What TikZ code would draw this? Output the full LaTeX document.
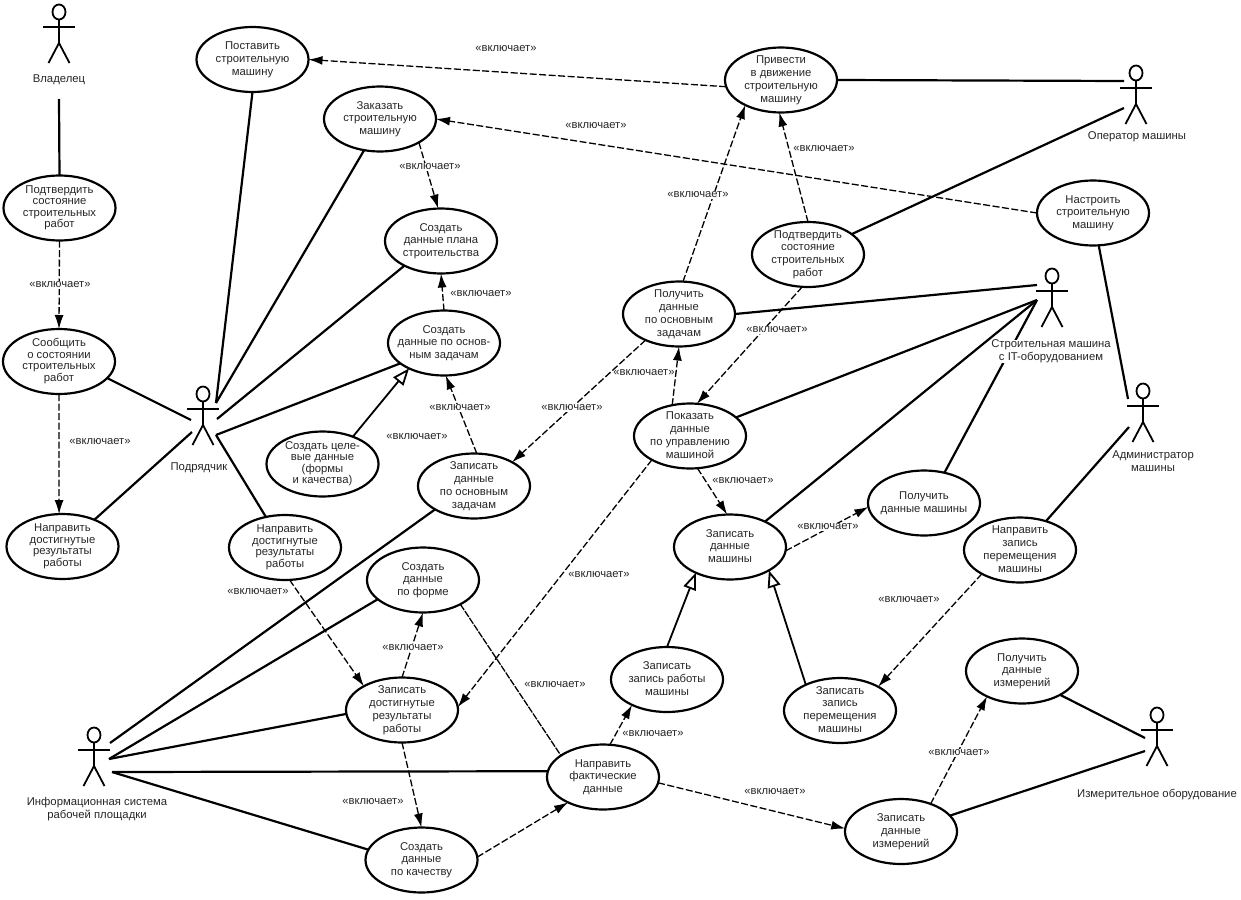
\documentclass[tikz,border=0pt]{standalone}
\usepackage{fontspec}
\setmainfont{Liberation Sans}
\usetikzlibrary{arrows.meta,shapes.geometric}
\newcommand\uctext[1]{\smash{\raisebox{-3pt}{\makebox[0pt][c]{\begin{tabular}{@{}c@{}}#1\end{tabular}}}}}
\newcommand\uc[3]{\node[usecase] (#1) at (#2) {\uctext{#3}};}
\newcommand\ucs[3]{\node[usecase] (#1) at (#2) {\def\arraystretch{0.89}\uctext{#3}};}
\newcommand\incl[2]{\node[inclabel] (#1) at (#2) {«включает»};}
\newcommand\actorfig[3]{%
  \coordinate (#1) at (#2,#3);
  \begin{scope}[shift={(#2,#3)}]
    \draw[actorline] (0,0) ellipse [x radius=6.5,y radius=7.5];
    \draw[actorline] (0,7.5) -- (0,31) -- (-10.5,51);
    \draw[actorline] (0,31) -- (10.5,51);
    \draw[actorline] (-16,15) -- (16,15);
  \end{scope}}
\tikzset{
  x=1pt,y=-1pt,
  usecase/.style={ellipse,draw=black,line width=2.2pt,minimum width=112pt,minimum height=65pt,inner sep=0pt,outer sep=0pt,text=black!85,font=\fontsize{11.3}{12.8}\selectfont},
  inclabel/.style={fill=white,inner sep=0.5pt,text=black!85,font=\fontsize{11.2}{12.8}\selectfont},
  inclabelnf/.style={inner sep=0.5pt,text=black!85,font=\fontsize{11.2}{12.8}\selectfont},
  actorlabel/.style={align=center,inner sep=0pt,fill=white,text=black!85,font=\fontsize{11.3}{12.9}\selectfont},
  actorline/.style={line width=1.8pt,black},
  assoc/.style={line width=2.2pt,black},
  incdep/.style={line width=1.3pt,black,dash pattern=on 7pt off 2.5pt,-{Latex[length=14pt,width=9pt]}},
  plaindep/.style={line width=1.3pt,black,dash pattern=on 7pt off 1.2pt},
  general/.style={line width=1.8pt,black,-{Triangle[open,length=17pt,width=13pt,fill=white,line width=1.8pt]}},
}
\begin{document}
\begin{tikzpicture}
\useasboundingbox (0,0) rectangle (1241,899);
% actors
\actorfig{aowner}{59}{12}
\actorfig{acontr}{203}{394}
\actorfig{aoper}{1136}{73}
\actorfig{ait}{1052}{276}
\actorfig{aadmin}{1143}{391}
\actorfig{ainfo}{94}{735}
\actorfig{ameas}{1157}{715}
% connector free ends
\coordinate (eowner) at (59,99);
\coordinate (ec1) at (216,403);
\coordinate (ec2) at (217,419);
\coordinate (ec3) at (216,435);
\coordinate (ec4) at (191,420);
\coordinate (ec5) at (192,432);
\coordinate (ei1) at (110,743);
\coordinate (ei2) at (109,759);
\coordinate (ei3) at (112,772);
\coordinate (eo1) at (1124,81);
\coordinate (eo2) at (1124,108);
\coordinate (et1) at (1037,285);
\coordinate (et2) at (1037,300);
\coordinate (ea1) at (1128,399);
\coordinate (ea2) at (1129,427);
\coordinate (em1) at (1145,738);
\coordinate (em2) at (1145,751);
% use cases
\uc{post}{252.5,59.5}{Поставить\\строительную\\машину}
\uc{zak}{380,119}{Заказать\\строительную\\машину}
\uc{plan}{441,241}{Создать\\данные плана\\строительства}
\uc{osn}{444,343}{Создать\\данные по основ-\\ным задачам}
\ucs{cel}{322.5,464}{Создать целе-\\вые данные\\(формы\\и качества)}
\uc{zap}{474,486}{Записать\\данные\\по основным\\задачам}
\ucs{mid}{285,547.5}{Направить\\достигнутые\\результаты\\работы}
\uc{forma}{423,580}{Создать\\данные\\по форме}
\uc{dost}{402,710}{Записать\\достигнутые\\результаты\\работы}
\uc{kach}{421.5,860}{Создать\\данные\\по качеству}
\uc{fakt}{603,777}{Направить\\фактические\\данные}
\ucs{podl}{59.5,208}{Подтвердить\\состояние\\строительных\\работ}
\ucs{soob}{59,361.5}{Сообщить\\о состоянии\\строительных\\работ}
\ucs{napl}{62.5,546.5}{Направить\\достигнутые\\результаты\\работы}
\uc{priv}{781,80}{Привести\\в движение\\строительную\\машину}
\uc{podm}{808,254.5}{Подтвердить\\состояние\\строительных\\работ}
\uc{polo}{679,314}{Получить\\данные\\по основным\\задачам}
\uc{pok}{690,436}{Показать\\данные\\по управлению\\машиной}
\uc{zapm}{730,547}{Записать\\данные\\машины}
\uc{polm}{924,503}{Получить\\данные машины}
\uc{nast}{1093,213}{Настроить\\строительную\\машину}
\uc{napz}{1020,550}{Направить\\запись\\перемещения\\машины}
\uc{rab}{667,679.5}{Записать\\запись работы\\машины}
\uc{per}{840,710.5}{Записать\\запись\\перемещения\\машины}
\uc{pizm}{1022,671}{Получить\\данные\\измерений}
\uc{zizm}{901,831.5}{Записать\\данные\\измерений}
% associations
\draw[assoc] (eowner) -- (podl.north);
\draw[assoc] (post.south) -- (ec1);
\draw[assoc] (zak.243) -- (ec1);
\draw[assoc] (plan.214) -- (ec2);
\draw[assoc] (osn.205.6) -- (ec3);
\draw[assoc] (mid.122) -- (ec3);
\draw[assoc] (soob.-19) -- (ec4);
\draw[assoc] (napl.40) -- (ec5);
\draw[assoc] (zap.211) -- (ei1);
\draw[assoc] (forma.203) -- (ei2);
\draw[assoc] (dost.184) -- (ei2);
\draw[assoc] (fakt.174) -- (ei3);
\draw[assoc] (kach.169) -- (ei3);
\draw[assoc] (priv.east) -- (eo1);
\draw[assoc] (podm.25) -- (eo2);
\draw[assoc] (polo.east) -- (et1);
\draw[assoc] (pok.22) -- (et2);
\draw[assoc] (zapm.36) -- (et2);
\draw[assoc] (polm.56) -- (et2);
\draw[assoc] (nast.280) -- (ea1);
\draw[assoc] (napz.48) -- (ea2);
\draw[assoc] (pizm.-32) -- (em1);
\draw[assoc] (zizm.18) -- (em2);
% include dependencies
\draw[incdep] (podl.south) -- (soob.north);
\draw[incdep] (soob.south) -- (napl.96);
\draw[incdep] (priv.187) -- (post.east);
\draw[incdep] (nast.west) -- (zak.east);
\draw[incdep] (zak.-31) -- (plan.95);
\draw[incdep] (osn.north) -- (plan.south);
\draw[incdep] (zap.85) -- (osn.-87);
\draw[incdep] (polo.83) -- (priv.215);
\draw[incdep] (podm.north) -- (priv.267);
\draw[incdep] (podm.260) -- (pok.78);
\draw[incdep] (pok.120) -- (polo.south);
\draw[incdep] (polo.218) -- (zap.32);
\draw[incdep] (pok.212) -- (dost.3);
\draw[incdep] (pok.-77) -- (zapm.95);
\draw[incdep] (zapm.-4) -- (polm.184);
\draw[incdep] (napz.212) -- (per.32);
\draw[incdep] (fakt.78) -- (rab.216);
\draw[plaindep] (forma.-33) -- (fakt.153);
\draw[incdep] (dost.south) -- (kach.north);
\draw[incdep] (dost.north) -- (forma.south);
\draw[incdep] (mid.-82) -- (dost.148);
\draw[incdep] (kach.3) -- (fakt.216);
\draw[incdep] (fakt.-6) -- (zizm.177);
\draw[incdep] (zizm.43.5) -- (pizm.216);
% generalisations
\draw[general] (cel.42.6) -- (osn.216);
\draw[general] (rab.north) -- (zapm.217);
\draw[general] (per.143) -- (zapm.-31);
% actor labels
\node[actorlabel] (lowner) at (59,80) {Владелец};
\node[actorlabel] (lcontr) at (199,468) {Подрядчик};
\node[actorlabel] (loper) at (1137,137) {Оператор машины};
\node[actorlabel] (lit) at (1051,351.5) {Строительная машина\\с IT-оборудованием};
\node[actorlabel] (ladmin) at (1153,461.5) {Администратор\\машины};
\node[actorlabel] (linfo) at (97,809.5) {Информационная система\\рабочей площадки};
\node[actorlabel] (lmeas) at (1157,795) {Измерительное оборудование};
% labels
\incl{i1}{60,285}
\incl{i2}{100,442}
\incl{i3}{506,49}
\incl{i4}{596,126}
\incl{i5}{430,167}
\incl{i6}{481,294}
\incl{i7}{460,408}
\incl{i8}{417,437}
\incl{i9}{698,195}
\incl{i10}{824,149}
\incl{i11}{777,330}
\node[inclabelnf] (i12) at (644,373) {«включает»};
\incl{i13}{572,408}
\incl{i14}{743,481}
\incl{i15}{828,527}
\incl{i16}{599,575}
\incl{i17}{909,600}
\incl{i18}{555,685}
\incl{i19}{413,648}
\incl{i20}{258,592}
\incl{i21}{373,802}
\incl{i22}{653,734}
\incl{i23}{775,792}
\incl{i24}{959,753}
\end{tikzpicture}
\end{document}
